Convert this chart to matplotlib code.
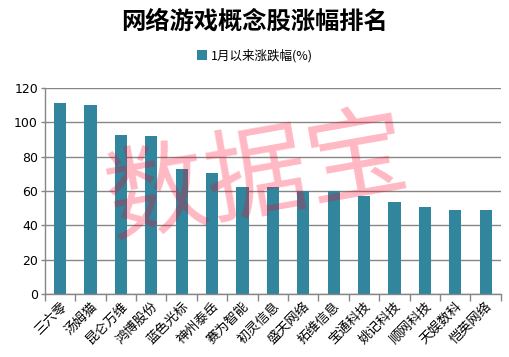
import numpy as np
import matplotlib
matplotlib.use('Agg')
import matplotlib.pyplot as plt

plt.rcParams['font.family'] = ['Noto Sans CJK SC', 'DejaVu Sans']

# data
stocks = ['三六零', '汤姆猫', '昆仑万维', '鸿博股份', '蓝色光标', '神州泰岳', '赛为智能',
          '初灵信息', '盛天网络', '拓维信息', '宝通科技', '姚记科技', '顺网科技', '天娱数科', '恺英网络']
change = [111.4, 110.2, 92.8, 92.2, 73.0, 70.6, 62.5, 62.5, 60.0, 60.0, 57.0, 53.5, 50.6, 48.9, 48.9]
yticks = [0, 20, 40, 60, 80, 100, 120]

bar_color = '#31859C'
grid_color = '#868686'

fig = plt.figure(figsize=(5.10, 3.57), dpi=100)
ax = fig.add_axes([0.088, 0.176, 0.894, 0.578])

x = np.arange(len(stocks))
ax.bar(x, change, width=0.4, color=bar_color, zorder=2, label='1月以来涨跌幅(%)')

ax.set_xlim(-0.5, len(stocks) - 0.5)
ax.set_ylim(0, 120)
ax.set_yticks(yticks)
ax.set_yticklabels([str(v) for v in yticks], fontsize=9, family='DejaVu Sans')
ax.yaxis.grid(True, color=grid_color, lw=1, zorder=0)

# category labels centred under bars, tick marks at category boundaries
ax.set_xticks(x)
ax.set_xticklabels(stocks, rotation=45, ha='right', rotation_mode='anchor', fontsize=9.5)
ax.tick_params(axis='x', length=0, pad=4)
ax.set_xticks(np.arange(-0.5, len(stocks)), minor=True)
ax.tick_params(axis='x', which='minor', length=5, color=grid_color, width=1)
ax.tick_params(axis='y', length=3, color=grid_color, width=1, pad=2)

for s in ['top', 'right']:
    ax.spines[s].set_visible(False)
for s in ['left', 'bottom']:
    ax.spines[s].set_color(grid_color)
    ax.spines[s].set_linewidth(1)

fig.text(0.5, 0.94, '网络游戏概念股涨幅排名', ha='center', va='center',
         fontsize=17.5, fontweight='bold')
fig.legend(loc='center', bbox_to_anchor=(0.5, 0.845), frameon=False, fontsize=9,
           handlelength=0.8, handleheight=0.8, handletextpad=0.3)

# watermark
fig.text(0.505, 0.50, '数据宝', ha='center', va='center', fontsize=73,
         color='#FF0028', alpha=0.28, rotation=10, zorder=10)

fig.savefig('out.png', dpi=100)
